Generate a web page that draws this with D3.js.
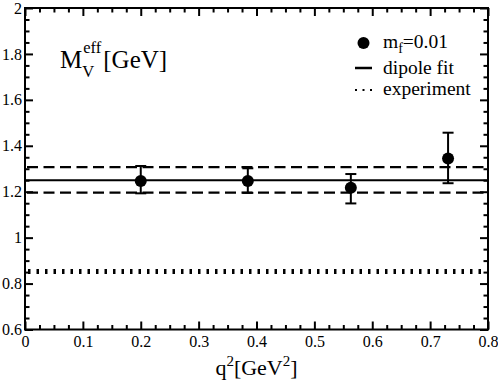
<!DOCTYPE html>
<html>
<head>
<meta charset="utf-8">
<script src="https://cdn.jsdelivr.net/npm/d3@7"></script>
<style>
  body { margin: 0; background: #fff; }
  svg { display: block; }
  svg text { font-family: 'Liberation Serif', 'Times New Roman', serif; }
</style>
</head>
<body>
<div id="chart"></div>
<script>
// data
var qValues = [0.2, 0.385, 0.563, 0.731];
var mValues = [1.247, 1.247, 1.217, 1.345];
var errLow = [1.193, 1.195, 1.149, 1.237];
var errHigh = [1.312, 1.302, 1.277, 1.457];

var fitCenter = 1.25;
var fitBand = [1.196, 1.307];
var experiment = 0.853;

var xTicks = [0, 0.1, 0.2, 0.3, 0.4, 0.5, 0.6, 0.7, 0.8];
var yTicks = [0.6, 0.8, 1, 1.2, 1.4, 1.6, 1.8, 2];

var width = 498, height = 381;
var plot = {left: 25, right: 488, top: 8, bottom: 329.5};
var font = "'Liberation Serif', 'Times New Roman', serif";

var svg = d3.select("#chart").append("svg")
    .attr("width", width)
    .attr("height", height);

var x = d3.scaleLinear().domain([0, 0.8]).range([plot.left, plot.right]);
var y = d3.scaleLinear().domain([0.6, 2]).range([plot.bottom, plot.top]);

var fmt = function(d) { return String(+d.toFixed(2)); };

// minor ticks (every quarter of a major step)
var xMinor = d3.range(0, 0.8001, 0.025).filter(function(d) { return Math.abs(d * 10 - Math.round(d * 10)) > 1e-6; });
var yMinor = d3.range(0.6, 2.0001, 0.05).filter(function(d) { return Math.abs(d * 5 - Math.round(d * 5)) > 1e-6; });

function styleAxis(g) {
    g.attr("font-family", null);
    g.select(".domain").remove();
    g.selectAll("line").attr("stroke", "#000").attr("stroke-width", 2);
    g.selectAll("text")
        .style("font-family", font)
        .attr("font-size", 16)
        .attr("fill", "#000");
}

// bottom
svg.append("g").attr("transform", "translate(0," + plot.bottom + ")")
    .call(d3.axisBottom(x).tickValues(xTicks).tickFormat(fmt).tickSize(-8).tickSizeOuter(0).tickPadding(6))
    .call(styleAxis);
svg.append("g").attr("transform", "translate(0," + plot.bottom + ")")
    .call(d3.axisBottom(x).tickValues(xMinor).tickFormat("").tickSize(-4.5).tickSizeOuter(0))
    .call(styleAxis);
// top
svg.append("g").attr("transform", "translate(0," + plot.top + ")")
    .call(d3.axisTop(x).tickValues(xTicks).tickFormat("").tickSize(-8).tickSizeOuter(0))
    .call(styleAxis);
svg.append("g").attr("transform", "translate(0," + plot.top + ")")
    .call(d3.axisTop(x).tickValues(xMinor).tickFormat("").tickSize(-4.5).tickSizeOuter(0))
    .call(styleAxis);
// left
svg.append("g").attr("transform", "translate(" + plot.left + ",0)")
    .call(d3.axisLeft(y).tickValues(yTicks).tickFormat(fmt).tickSize(-8).tickSizeOuter(0).tickPadding(3))
    .call(styleAxis);
svg.append("g").attr("transform", "translate(" + plot.left + ",0)")
    .call(d3.axisLeft(y).tickValues(yMinor).tickFormat("").tickSize(-4.5).tickSizeOuter(0))
    .call(styleAxis);
// right
svg.append("g").attr("transform", "translate(" + plot.right + ",0)")
    .call(d3.axisRight(y).tickValues(yTicks).tickFormat("").tickSize(-8).tickSizeOuter(0))
    .call(styleAxis);
svg.append("g").attr("transform", "translate(" + plot.right + ",0)")
    .call(d3.axisRight(y).tickValues(yMinor).tickFormat("").tickSize(-4.5).tickSizeOuter(0))
    .call(styleAxis);

// frame
svg.append("rect")
    .attr("x", plot.left).attr("y", plot.top)
    .attr("width", plot.right - plot.left).attr("height", plot.bottom - plot.top)
    .attr("fill", "none").attr("stroke", "#000").attr("stroke-width", 2);

// horizontal lines: fit, error band, experiment
svg.append("line")
    .attr("x1", x(0)).attr("x2", x(0.8))
    .attr("y1", y(fitCenter)).attr("y2", y(fitCenter))
    .attr("stroke", "#000").attr("stroke-width", 2);

svg.selectAll(".band").data(fitBand).enter().append("line")
    .attr("class", "band")
    .attr("x1", x(0) + 2).attr("x2", x(0.8))
    .attr("y1", function(d) { return y(d); }).attr("y2", function(d) { return y(d); })
    .attr("stroke", "#000").attr("stroke-width", 2.2)
    .attr("stroke-dasharray", "11,5.5");

svg.append("line")
    .attr("x1", x(0) + 3).attr("x2", x(0.8))
    .attr("y1", y(experiment)).attr("y2", y(experiment))
    .attr("stroke", "#000").attr("stroke-width", 5)
    .attr("stroke-dasharray", "2.5,6");

// error bars
var pts = qValues.map(function(q, i) {
    return {q: q, m: mValues[i], lo: errLow[i], hi: errHigh[i]};
});

var eb = svg.append("g").selectAll("g").data(pts).enter().append("g");
eb.append("line")
    .attr("x1", function(d) { return x(d.q); }).attr("x2", function(d) { return x(d.q); })
    .attr("y1", function(d) { return y(d.lo); }).attr("y2", function(d) { return y(d.hi); })
    .attr("stroke", "#000").attr("stroke-width", 2);
eb.append("line")
    .attr("x1", function(d) { return x(d.q) - 5.5; }).attr("x2", function(d) { return x(d.q) + 5.5; })
    .attr("y1", function(d) { return y(d.lo); }).attr("y2", function(d) { return y(d.lo); })
    .attr("stroke", "#000").attr("stroke-width", 2);
eb.append("line")
    .attr("x1", function(d) { return x(d.q) - 5.5; }).attr("x2", function(d) { return x(d.q) + 5.5; })
    .attr("y1", function(d) { return y(d.hi); }).attr("y2", function(d) { return y(d.hi); })
    .attr("stroke", "#000").attr("stroke-width", 2);
eb.append("circle")
    .attr("cx", function(d) { return x(d.q); })
    .attr("cy", function(d) { return y(d.m); })
    .attr("r", 6).attr("fill", "#000");

// x axis title  q^2 [GeV^2]
var xt = svg.append("text")
    .attr("x", (plot.left + plot.right) / 2).attr("y", 375)
    .attr("text-anchor", "middle")
    .attr("font-size", 22).attr("fill", "#000");
xt.append("tspan").text("q");
xt.append("tspan").attr("font-size", 15).attr("dy", -9).text("2");
xt.append("tspan").attr("dy", 9).text("[GeV");
xt.append("tspan").attr("font-size", 15).attr("dy", -9).text("2");
xt.append("tspan").attr("dy", 9).text("]");

// panel title  M_V^eff [GeV]
var tM = svg.append("text")
    .attr("x", 60).attr("y", 68)
    .attr("font-size", 25).text("M");
var mw = tM.node().getComputedTextLength();
var tSup = svg.append("text")
    .attr("x", 60 + mw + 1).attr("y", 53)
    .attr("font-size", 16.5).text("eff");
var tSub = svg.append("text")
    .attr("x", 60 + mw).attr("y", 77)
    .attr("font-size", 16.5).text("V");
var sw = Math.max(tSup.node().getComputedTextLength(), tSub.node().getComputedTextLength());
svg.append("text")
    .attr("x", 60 + mw + sw + 3).attr("y", 68)
    .attr("font-size", 25).text("[GeV]");

// legend
var lx = 355, tx = 383;
svg.append("circle").attr("cx", 363.5).attr("cy", 43).attr("r", 6).attr("fill", "#000");
var l1 = svg.append("text").attr("x", tx).attr("y", 47.5)
    .attr("font-size", 19.5);
l1.append("tspan").text("m");
l1.append("tspan").attr("font-size", 14).attr("dy", 5).text("f");
l1.append("tspan").attr("dy", -5).text("=0.01");

svg.append("line").attr("x1", lx).attr("x2", lx + 17).attr("y1", 68).attr("y2", 68)
    .attr("stroke", "#000").attr("stroke-width", 2.5);
svg.append("text").attr("x", tx).attr("y", 73.5)
    .attr("font-size", 19.5).text("dipole fit");

svg.append("line").attr("x1", lx).attr("x2", lx + 18).attr("y1", 90).attr("y2", 90)
    .attr("stroke", "#000").attr("stroke-width", 2)
    .attr("stroke-dasharray", "2,5.5");
svg.append("text").attr("x", tx).attr("y", 95)
    .attr("font-size", 19.5).text("experiment");
</script>
</body>
</html>
